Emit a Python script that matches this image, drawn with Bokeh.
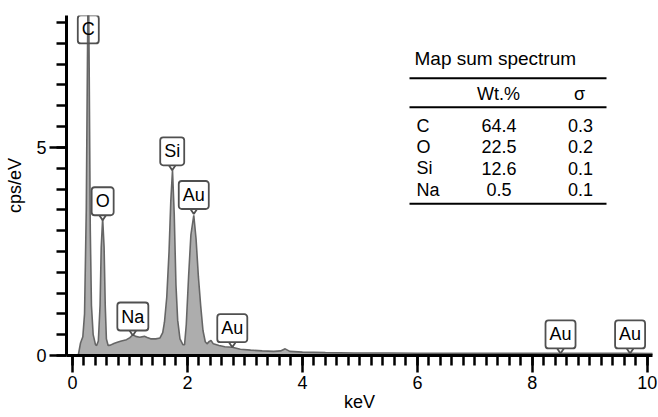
from bokeh.plotting import figure
from bokeh.models import Range1d, FixedTicker, Label, ColumnDataSource
from bokeh.core.properties import value
from bokeh.embed import file_html
from bokeh.resources import INLINE

# ---------------- data ----------------
kev = [0.10, 0.12, 0.14, 0.18, 0.21, 0.24, 0.26, 0.275, 0.29, 0.31, 0.33, 0.36,
       0.40, 0.42, 0.45, 0.48, 0.50, 0.525, 0.55, 0.57, 0.59, 0.62, 0.66, 0.72,
       0.78, 0.85, 0.94, 1.00, 1.05, 1.10, 1.17, 1.25, 1.30, 1.36, 1.45, 1.52,
       1.57, 1.60, 1.64, 1.68, 1.71, 1.74, 1.77, 1.80, 1.83, 1.87, 1.92, 1.95,
       1.98, 2.02, 2.06, 2.11, 2.15, 2.19, 2.23, 2.27, 2.31, 2.34, 2.38, 2.41,
       2.45, 2.55, 2.65, 2.78, 2.92, 3.10, 3.30, 3.50, 3.62, 3.70, 3.78, 4.00,
       4.40, 4.90, 5.50, 6.00, 7.00, 8.00, 8.50, 9.00, 9.70, 10.10]
cps = [0.00, 0.15, 0.30, 0.45, 1.00, 3.50, 7.00, 9.50, 7.00, 3.00, 1.20, 0.50,
       0.26, 0.24, 0.35, 1.20, 2.60, 3.30, 2.60, 1.20, 0.40, 0.24, 0.25, 0.29,
       0.32, 0.35, 0.38, 0.43, 0.50, 0.46, 0.44, 0.46, 0.43, 0.40, 0.40, 0.42,
       0.55, 0.80, 1.40, 2.50, 3.70, 4.45, 3.40, 1.70, 0.85, 0.40, 0.26, 0.26,
       0.75, 1.90, 2.90, 3.37, 2.80, 1.90, 1.20, 0.60, 0.33, 0.28, 0.34, 0.36,
       0.28, 0.24, 0.21, 0.20, 0.15, 0.13, 0.11, 0.10, 0.11, 0.16, 0.10, 0.08,
       0.07, 0.06, 0.06, 0.055, 0.055, 0.05, 0.05, 0.05, 0.05, 0.045]

peak_labels = ["C", "O", "Na", "Si", "Au", "Au", "Au", "Au"]
peak_x = [0.275, 0.525, 1.05, 1.735, 2.11, 2.78, 8.49, 9.70]
peak_y = [7.38, 3.25, 0.48, 4.45, 3.40, 0.20, 0.05, 0.05]

x_ticks = [0, 2, 4, 6, 8, 10]
y_ticks = [0, 5]

table_title = "Map sum spectrum"
table_header = ["Wt.%", "σ"]
elements = ["C", "O", "Si", "Na"]
wt_pct = ["64.4", "22.5", "12.6", "0.5"]
sigma = ["0.3", "0.2", "0.1", "0.1"]

# ---------------- figure ----------------
X0, X1 = -0.104, 10.09
Y0, Y1 = 0.0, 8.17
FL, FR, FT, FB = 66, 652, 15, 355  # frame pixel box


def px2x(px):
    return X0 + (px - FL) / (FR - FL) * (X1 - X0)


def px2y(py):
    return Y0 + (FB - py) / (FB - FT) * (Y1 - Y0)


DX = (X1 - X0) / (FR - FL)
DY = (Y1 - Y0) / (FB - FT)

FONT = "Liberation Sans"
TFS = "18px"

p = figure(width=658, height=417, output_backend="svg", toolbar_location=None,
           x_range=Range1d(X0, X1), y_range=Range1d(Y0, Y1),
           min_border_left=FL, min_border_right=658 - FR,
           min_border_top=FT, min_border_bottom=417 - FB)
p.grid.visible = False
p.outline_line_color = None
p.background_fill_color = "white"

# spectrum
p.varea(x=kev, y1=[0] * len(kev), y2=cps, fill_color="#adadad")
p.line(kev, cps, line_color="#666666", line_width=1.6)

# axes
for ax in (p.xaxis[0], p.yaxis[0]):
    ax.axis_line_width = 3
    ax.major_tick_line_width = 2.5
    ax.minor_tick_line_width = 2.5
    ax.major_tick_out = 17
    ax.major_tick_in = 0
    ax.minor_tick_out = 10
    ax.minor_tick_in = 0
    ax.major_label_text_font = FONT
    ax.major_label_text_font_size = "18px"
    ax.major_label_text_color = "black"
    ax.axis_label_text_font = FONT
    ax.axis_label_text_font_size = "18px"
    ax.axis_label_text_font_style = "normal"
    ax.axis_label_text_color = "black"

p.xaxis.ticker = FixedTicker(ticks=x_ticks,
                             minor_ticks=[round(i * 0.2, 2) for i in range(0, 51)])
p.yaxis.ticker = FixedTicker(ticks=y_ticks,
                             minor_ticks=[round(i * 0.5, 2) for i in range(0, 17)])
p.xaxis.axis_label = "keV"
p.yaxis.axis_label = "cps/eV"
p.xaxis.major_label_standoff = 3
p.yaxis.major_label_standoff = 3
p.xaxis.axis_label_standoff = 0
p.yaxis.axis_label_standoff = 8

# peak labels: pointer V + box
tri_xs, tri_ys = [], []
for lx, ly in zip(peak_x, peak_y):
    tri_xs.append([lx - 4 * DX, lx + 4 * DX, lx])
    tri_ys.append([ly + 6 * DY, ly + 6 * DY, ly])
p.patches(tri_xs[1:], tri_ys[1:], fill_color="white", line_color="#505050",
          line_width=1.8)

for i, (t, lx, ly) in enumerate(zip(peak_labels, peak_x, peak_y)):
    lab = Label(x=lx, y=ly, y_offset=5, text=t, text_align="center",
                text_baseline="bottom", text_font=FONT, text_font_size="18px",
                text_color="black", background_fill_color="white",
                background_fill_alpha=0.0 if i == 0 else 1.0,
                border_line_color="#505050", border_line_width=1.8,
                padding=4, border_radius=3)
    p.add_layout(lab)

# table
p.add_layout(Label(x=px2x(414), y=px2y(58), text=table_title, text_font=FONT,
                   text_font_size="19px", text_baseline="middle",
                   text_align="left", text_color="black"))
p.segment(x0=[px2x(409)] * 3, x1=[px2x(606)] * 3,
          y0=[px2y(77.7), px2y(106.7), px2y(203.3)],
          y1=[px2y(77.7), px2y(106.7), px2y(203.3)],
          line_color="black", line_width=2)

p.text(x=[px2x(498), px2x(579)], y=[px2y(93)] * 2, text=table_header,
       text_font=value(FONT), text_font_size=TFS, text_align="center",
       text_baseline="middle", text_color="black")

row_y = [px2y(125), px2y(146), px2y(167.5), px2y(189)]
src = ColumnDataSource(dict(
    xe=[px2x(416)] * 4, xw=[px2x(498.5)] * 4, xs=[px2x(580)] * 4,
    y=row_y, el=elements, wt=wt_pct, sg=sigma))
p.text(x="xe", y="y", text="el", source=src, text_font=value(FONT),
       text_font_size=TFS, text_align="left", text_baseline="middle",
       text_color="black")
p.text(x="xw", y="y", text="wt", source=src, text_font=value(FONT),
       text_font_size=TFS, text_align="center", text_baseline="middle",
       text_color="black")
p.text(x="xs", y="y", text="sg", source=src, text_font=value(FONT),
       text_font_size=TFS, text_align="center", text_baseline="middle",
       text_color="black")

open("out.html", "w").write(file_html(p, INLINE))
